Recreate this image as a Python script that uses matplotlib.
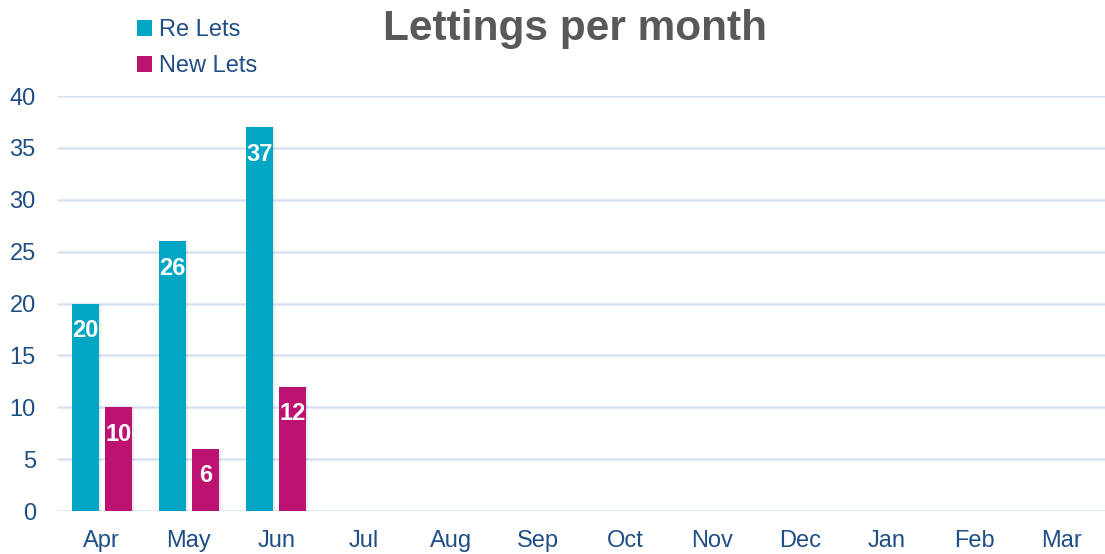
import matplotlib.pyplot as plt
import numpy as np

plt.rcParams['font.family'] = ['Liberation Sans', 'DejaVu Sans']

months = ['Apr', 'May', 'Jun', 'Jul', 'Aug', 'Sep', 'Oct', 'Nov', 'Dec', 'Jan', 'Feb', 'Mar']
re_lets = [20, 26, 37]
new_lets = [10, 6, 12]

TEAL = '#00A6C4'
MAGENTA = '#BC1272'
TEXT_BLUE = '#1F4E85'
GRID = '#D6E2F2'

fig = plt.figure(figsize=(11.05, 5.54), dpi=100)
ax = fig.add_axes([0.0525, 0.0776, 0.9475, 0.7491])

x = np.arange(len(months))
width = 0.31
gap = 0.07
xr = x[:len(re_lets)] - (width + gap) / 2
xn = x[:len(new_lets)] + (width + gap) / 2

# faint shadow under the bars
ax.bar(xr + 0.025, re_lets, width, color='#000000', alpha=0.07, zorder=2)
ax.bar(xn + 0.025, new_lets, width, color='#000000', alpha=0.07, zorder=2)

b1 = ax.bar(xr, re_lets, width, color=TEAL, label='Re Lets', zorder=3)
b2 = ax.bar(xn, new_lets, width, color=MAGENTA, label='New Lets', zorder=3)

for bars, vals in ((b1, re_lets), (b2, new_lets)):
    for b, v in zip(bars, vals):
        ax.annotate(str(v), (b.get_x() + b.get_width() / 2, v), xytext=(0, -27),
                    textcoords='offset pixels', ha='center', va='center',
                    color='white', fontsize=17, fontweight='bold', zorder=4)

ax.set_xlim(-0.5, len(months) - 0.5)
ax.set_ylim(0, 40)
ax.set_yticks(range(0, 41, 5))
ax.set_xticks(x)
ax.set_xticklabels(months)
ax.tick_params(axis='both', length=0, labelsize=17, colors=TEXT_BLUE)
ax.tick_params(axis='y', pad=16)
ax.tick_params(axis='x', pad=14)
ax.grid(axis='y', color=GRID, linewidth=1.8, zorder=0)
for s in ax.spines.values():
    s.set_visible(False)

fig.text(0.52, 0.948, 'Lettings per month', ha='center', va='center',
         fontsize=30.5, fontweight='bold', color='#595959')

leg = fig.legend(handles=[b1, b2], loc='upper left', bbox_to_anchor=(0.11, 0.993),
                 frameon=False, fontsize=17, handlelength=0.62, handleheight=0.62,
                 handletextpad=0.3, labelspacing=0.6, borderaxespad=0.25)
for t in leg.get_texts():
    t.set_color(TEXT_BLUE)

fig.savefig('out.png', dpi=100)
